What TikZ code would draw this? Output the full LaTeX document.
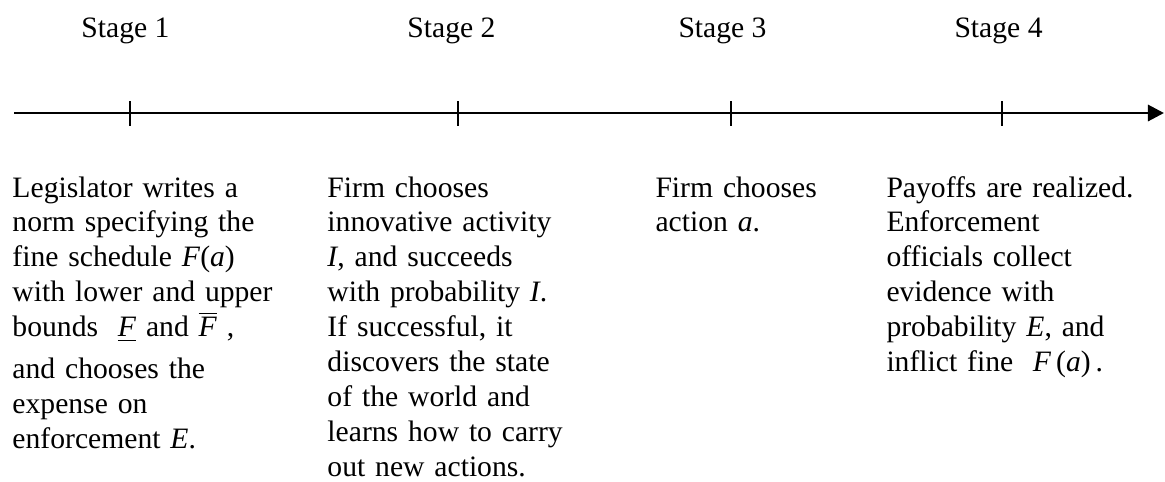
\documentclass[tikz,border=0pt]{standalone}
\usepackage{fontspec}
\setmainfont{Liberation Serif}
\usetikzlibrary{arrows.meta}
\tikzset{
  stagelabel/.style={anchor=base west, inner sep=0pt, font=\fontsize{12}{14.15}\selectfont},
  stagetext/.style={anchor=base west, inner sep=0pt, text width=200pt, align=left, font=\fontsize{12}{14.15}\selectfont},
  axisline/.style={line width=1.2pt, -{Triangle[length=6.5pt,width=6.5pt]}},
  tickmark/.style={line width=0.6pt}
}
\begin{document}
\begin{tikzpicture}[x=0.405pt,y=-0.405pt]
\useasboundingbox (0,0) rectangle (1165,481);
% axis
\coordinate (start) at (14,113);
\coordinate (end) at (1164,113);
\draw[axisline] (start) -- (end);
% ticks
\foreach \n/\x in {1/130,2/458,3/731,4/1002}{
  \coordinate (t\n a) at (\x,101);
  \coordinate (t\n b) at (\x,126);
  \draw[tickmark] (t\n a) -- (t\n b);
}
% stage labels
\node[stagelabel] (s1) at (81,37) {Stage 1};
\node[stagelabel] (s2) at (407,37) {Stage 2};
\node[stagelabel] (s3) at (678,37) {Stage 3};
\node[stagelabel] (s4) at (954,37) {Stage 4};
% texts
\node[stagetext] (d1) at (12,197) {Legislator writes a\\
norm specifying the\\
fine schedule \textit{F}(\textit{a})\\
with lower and upper\\
bounds \ \underline{\textit{F}} and $\overline{\hbox{\textit{F}}}$\ ,\\[2.8pt]
and chooses the\\
expense on\\
enforcement \textit{E}.};
\node[stagetext] (d2) at (327,197) {Firm chooses\\
innovative activity\\
\textit{I}, and succeeds\\
with probability \textit{I}.\\
If successful, it\\
discovers the state\\
of the world and\\
learns how to carry\\
out new actions.};
\node[stagetext] (d3) at (655,197) {Firm chooses\\
action \textit{a}.};
\node[stagetext] (d4) at (886,197) {Payoffs are realized.\\
Enforcement\\
officials collect\\
evidence with\\
probability \textit{E}, and\\
inflict fine \ \textit{F}\,(\textit{a})\,.};
\end{tikzpicture}
\end{document}
